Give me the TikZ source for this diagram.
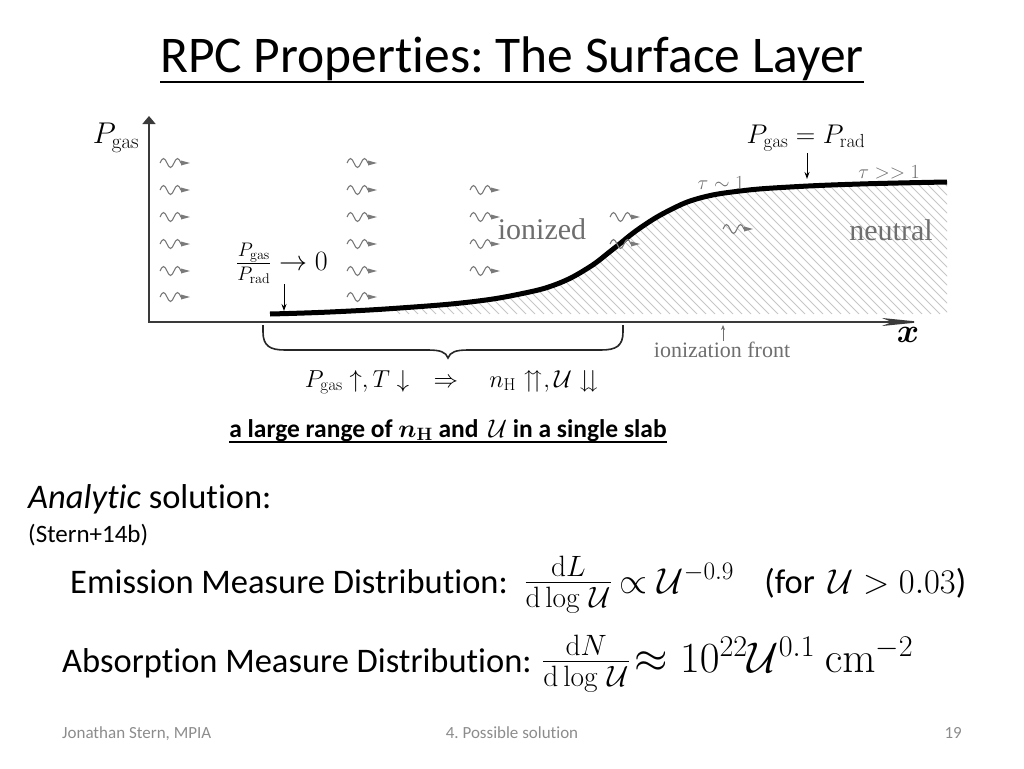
\RequirePackage{fix-cm}
\documentclass[tikz,border=0pt]{standalone}
\usepackage{amsmath,amssymb}
\usepackage[no-math]{fontspec}
\setmainfont[Ligatures=NoCommon]{Carlito}
\newfontfamily\figfont{Liberation Serif}
\usetikzlibrary{arrows.meta,positioning}
\frenchspacing
\definecolor{axisc}{HTML}{3A3A3A}
\definecolor{photonc}{HTML}{7A7A7A}
\definecolor{hatchc}{HTML}{C6C6C6}
\definecolor{labelc}{HTML}{6E6E6E}
\definecolor{footc}{HTML}{8C8C8C}

\tikzset{
  photon/.pic={
    \draw[photonc, line width=1.1pt] (0,0) sin (3.5,-4.5) cos (7,0) sin (10.5,4.5) cos (14,0) sin (17.5,-4.5) cos (21,0) -- (24,0);
    \fill[photonc] (21,-2.5) -- (30,0) -- (21,2.5) -- cycle;
  },
  figlabel/.style={labelc, font=\figfont\fontsize{30}{34}\selectfont, inner sep=0pt},
  body/.style={font=\fontsize{34.5}{40}\selectfont, inner sep=0pt},
  pointer/.style={-{Stealth[length=7pt,width=5pt]}, line width=1pt},
}

\begin{document}
\begin{tikzpicture}[x=1pt, y=-1pt]
    \useasboundingbox (0,0) rectangle (1024,768);
    % title
    \node[font=\fontsize{51.5}{56}\selectfont, inner sep=0pt, anchor=base] (title) at (512,72) {RPC Properties: The Surface Layer};
    \draw[line width=2.6pt] ([yshift=-10pt]title.base west) -- ([yshift=-10pt]title.base east);

    % hatched neutral gas
    \begin{scope}
      \clip plot[smooth, tension=0.7] coordinates {(270,314) (330,312) (400,308) (470,302) (520,294) (557,284) (588,268) (612,250) (640,228) (670,210) (700,198) (740,191) (790,187) (860,184) (947,182)} -- (947,314) -- cycle;
      \foreach \i in {400,409,...,1100}
        \draw[hatchc, line width=0.9pt] (\i-150,164) -- (\i,314);
    \end{scope}
    \draw[line width=5pt] plot[smooth, tension=0.7] coordinates {(270,314) (330,312) (400,308) (470,302) (520,294) (557,284) (588,268) (612,250) (640,228) (670,210) (700,198) (740,191) (790,187) (860,184) (947,182)};

    % axes
    \coordinate (origin) at (149,322);
    \coordinate (ytop) at (149,116);
    \coordinate (xend) at (922,322);
    \draw[axisc, line width=1.6pt, -{Triangle[length=8pt,width=13pt]}] (origin) -- (ytop);
    \draw[axisc, line width=1.6pt, -{Stealth[length=40pt,width=8pt,inset=10pt]}] ([xshift=-0.8pt]origin) -- (xend);
    \node[font=\fontsize{30}{34}\selectfont, inner sep=0pt] (ylab) at (116,138) {$P_{\mathrm{gas}}$};
    \node[font=\fontsize{34}{38}\selectfont\boldmath, inner sep=0pt] (xlab) at (908,335) {$x$};

    % photons
    \foreach \y in {163,190,217,244,271,297} {
      \pic at (160,\y) {photon};
      \pic at (347,\y) {photon};
    }
    \foreach \y in {190,217,244,271}
      \pic at (470,\y) {photon};
    \foreach \y in {217,244}
      \pic at (610,\y) {photon};
    \pic at (723,229) {photon};

    % labels in the plot
    \node[figlabel] (ionized) at (542,229) {ionized};
    \node[figlabel] (neutral) at (891,230) {neutral};
    \node[labelc, font=\fontsize{20}{24}\selectfont, inner sep=0pt] (tauone) at (721,183) {$\tau\sim1$};
    \node[labelc, font=\fontsize{20}{24}\selectfont, inner sep=0pt] (taubig) at (889,172) {$\tau>>1$};

    \node[font=\fontsize{28}{32}\selectfont, inner sep=1pt] (pfrac) at (282,263) {$\frac{P_{\mathrm{gas}}}{P_{\mathrm{rad}}}\to0$};
    \coordinate (ptip) at (284,311);
    \draw[pointer] (pfrac.south -| ptip) -- (ptip);

    \node[font=\fontsize{27}{30}\selectfont, inner sep=2pt] (peq) at (806,138) {$P_{\mathrm{gas}}=P_{\mathrm{rad}}$};
    \coordinate (eqtip) at (807,179);
    \draw[pointer] (peq.south -| eqtip) -- (eqtip);

    \node[labelc, font=\figfont\fontsize{22}{26}\selectfont, inner sep=1pt] (front) at (722,350) {ionization front};
    \coordinate (fronttip) at (723,325);
    \draw[labelc, -{Stealth[length=5pt,width=4pt]}, line width=0.8pt] (front.north -| fronttip) -- (fronttip);

    % brace under the slab
    \draw[line width=1.6pt, color=black!85] (263,325) -- (263,332) .. controls (263,346) and (270,350) .. (285,350) -- (428,350)
      .. controls (440,350) and (446,352) .. (448,358) .. controls (450,352) and (456,350) .. (468,350) -- (601,350)
      .. controls (616,350) and (623,346) .. (623,332) -- (623,325);
    \node[font=\fontsize{24.5}{28}\selectfont, anchor=base, inner sep=0pt] (chain) at (452,387)
      {$P_{\mathrm{gas}}\uparrow, T\downarrow\quad\Rightarrow\quad n_{\mathrm{H}}\upuparrows, \mathcal{U}\downdownarrows$};
    \node[font=\bfseries\fontsize{25.5}{30}\selectfont, anchor=base, inner sep=0pt] (slab) at (448,437)
      {a large range of {\boldmath$n_{\mathrm{H}}$} and \,$\mathcal{U}$ in a single slab};
    \draw[line width=1.8pt] ([yshift=-5pt]slab.base west) -- ([yshift=-5pt]slab.base east);

    % analytic solution
    \node[body, anchor=base west] (analytic) at (28,508) {\textit{Analytic} solution:};
    \node[font=\fontsize{25}{30}\selectfont, anchor=base west, inner sep=0pt] (cite) at (28,542) {(Stern+14b)};

    \node[body, anchor=base west] (emlab) at (70,593) {Emission Measure Distribution:};
    \node[font=\fontsize{42}{46}\selectfont, inner sep=0pt, base right=16pt of emlab] (emfrac) {$\frac{\mathrm{d}L}{\mathrm{d}\log\,\mathcal{U}}$};
    \node[font=\fontsize{36}{40}\selectfont, inner sep=0pt, base right=7pt of emfrac] (emrhs) {$\propto\mathcal{U}^{-0.9}$};
    \node[body, base right=30pt of emrhs] (emcond) {(for \,$\mathcal{U}>0.03$)};

    \node[body, anchor=base west] (ablab) at (62,672) {Absorption Measure Distribution:};
    \node[font=\fontsize{42}{46}\selectfont, inner sep=0pt, base right=10pt of ablab] (abfrac) {$\frac{\mathrm{d}N}{\mathrm{d}\log\,\mathcal{U}}$};
    \node[font=\fontsize{43}{46}\selectfont, inner sep=0pt, base right=4pt of abfrac] (abrhs) {$\approx10^{22}\mathcal{U}^{0.1}\ \mathrm{cm}^{-2}$};

    % footer
    \node[footc, font=\fontsize{17}{20}\selectfont, anchor=base west, inner sep=0pt] (author) at (62,738) {Jonathan Stern, MPIA};
    \node[footc, font=\fontsize{17}{20}\selectfont, anchor=base, inner sep=0pt] (section) at (512,738) {4. Possible solution};
    \node[footc, font=\fontsize{17}{20}\selectfont, anchor=base east, inner sep=0pt] (pagenum) at (962,738) {19};
\end{tikzpicture}
\end{document}
